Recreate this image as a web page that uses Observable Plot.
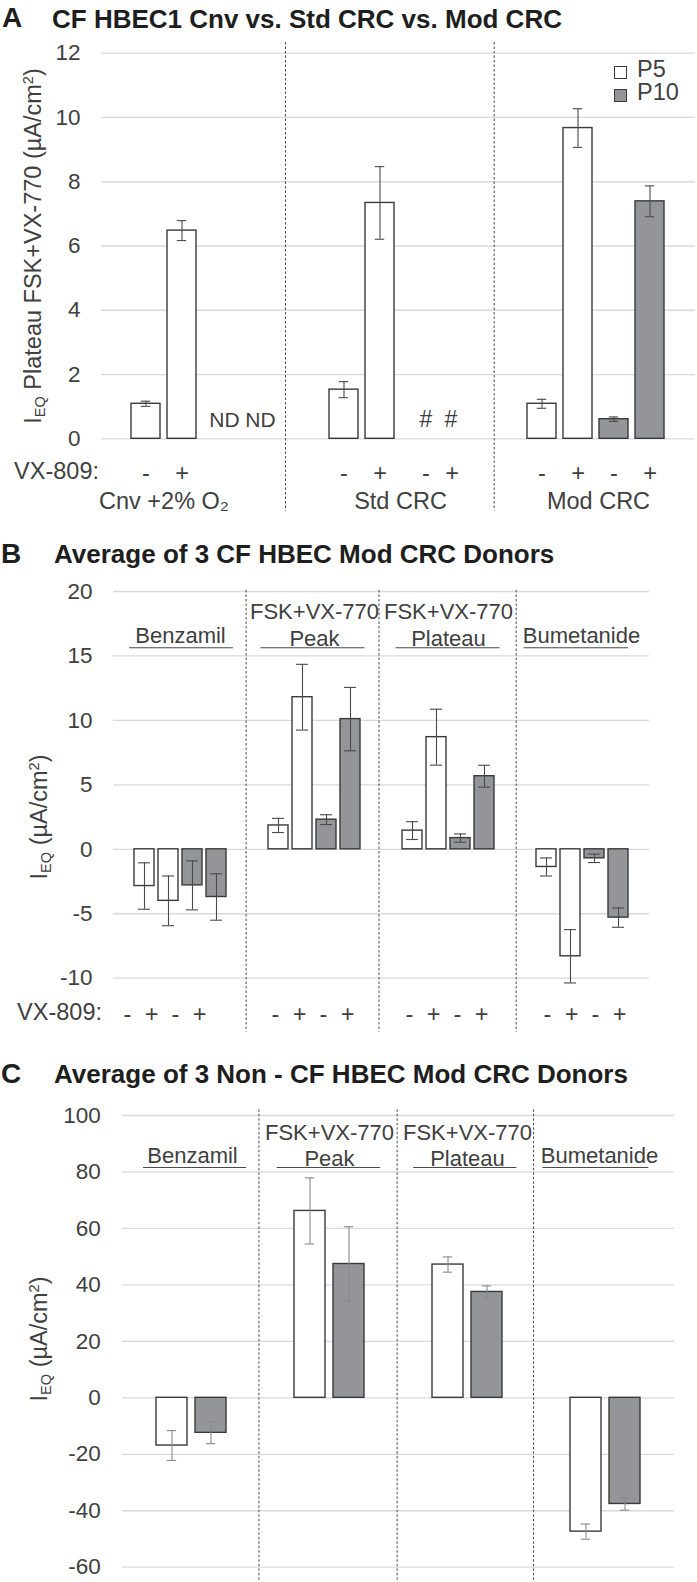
<!DOCTYPE html>
<html><head><meta charset="utf-8">
<script src="https://cdn.jsdelivr.net/npm/d3@7"></script>
<script src="https://cdn.jsdelivr.net/npm/@observablehq/plot@0.6"></script>
<style>
html,body{margin:0;padding:0;background:#fff;}
body{width:697px;height:1582px;overflow:hidden;position:relative;font-family:"Liberation Sans",Arial,Helvetica,sans-serif;color:#404040;}
.abs{position:absolute;white-space:nowrap;line-height:1;z-index:2;}
.letter{font-weight:bold;font-size:28px;color:#1e1e1e;}
.title{font-weight:bold;font-size:26px;color:#1e1e1e;}
.ylab{font-size:23.5px;transform:translate(-50%,-50%) rotate(-90deg);}
.vx{font-size:23.5px;text-align:right;}
.leg{font-size:23.5px;line-height:23.7px;}
.box{position:absolute;width:11px;height:11px;border:1.3px solid #3a3a3a;z-index:2;}
sub{font-size:0.62em;vertical-align:-0.28em;line-height:0;}
sup{font-size:0.62em;vertical-align:0.55em;line-height:0;}
</style></head>
<body>
<div class="abs letter" style="left:2px;top:4.3px">A</div>
<div class="abs title" style="left:52px;top:6px">CF HBEC1 Cnv vs. Std CRC vs. Mod CRC</div>
<div class="abs letter" style="left:1px;top:539.6px">B</div>
<div class="abs title" style="left:54px;top:541.3px">Average of 3 CF HBEC Mod CRC Donors</div>
<div class="abs letter" style="left:1px;top:1059.6px">C</div>
<div class="abs title" style="left:54px;top:1061.3px">Average of 3 Non - CF HBEC Mod CRC Donors</div>

<div class="abs ylab" style="left:33.9px;top:246px">I<sub>EQ</sub> Plateau FSK+VX-770 (µA/cm<sup>2</sup>)</div>
<div class="abs ylab" style="left:39.9px;top:816.6px">I<sub>EQ</sub> (µA/cm<sup>2</sup>)</div>
<div class="abs ylab" style="left:39.9px;top:1339px">I<sub>EQ</sub> (µA/cm<sup>2</sup>)</div>

<div class="abs vx" style="left:0;width:99px;top:460.1px">VX-809:</div>
<div class="abs vx" style="left:0;width:102px;top:1001.1px">VX-809:</div>

<div class="box" style="left:613.7px;top:65.7px;background:#fff"></div>
<div class="box" style="left:613.7px;top:89.3px;background:#949599"></div>
<div class="abs leg" style="left:637px;top:57.5px">P5<br>P10</div>

<script>
const FONT = '"Liberation Sans", Arial, Helvetica, sans-serif';
const INK = "#404040";
const GREY = "#949599";

// ---------- shared categories ----------
const slotKeys = ["P5-", "P5+", "P10-", "P10+"];
const vxSigns = ["-", "+", "-", "+"];
const passages = ["P5", "P10"];

// ---------- Panel A ----------
const aGroups = ["Cnv +2% O₂", "Std CRC", "Mod CRC"];
const aBarGroup = ["Cnv +2% O₂", "Cnv +2% O₂", "Std CRC", "Std CRC", "Mod CRC", "Mod CRC", "Mod CRC", "Mod CRC"];
const aBarSlot = ["P5-", "P5+", "P5-", "P5+", "P5-", "P5+", "P10-", "P10+"];
const aMean = [1.09, 6.48, 1.53, 7.34, 1.09, 9.67, 0.61, 7.39];
const aErr = [0.08, 0.31, 0.25, 1.13, 0.14, 0.60, 0.07, 0.48];
const aMissingGroup = ["Cnv +2% O₂", "Cnv +2% O₂", "Std CRC", "Std CRC"];
const aMissingSlot = ["P10-", "P10+", "P10-", "P10+"];
const aMissingText = ["ND", "ND", "#", "#"];
const aTicks = [0, 2, 4, 6, 8, 10, 12];

// ---------- Panel B ----------
const bGroups = ["Benzamil", "Peak", "Plateau", "Bumetanide"];
const bLabels = ["Benzamil", "FSK+VX-770\nPeak", "FSK+VX-770\nPlateau", "Bumetanide"];
const bMeanP5Minus = [-2.85, 1.85, 1.45, -1.37];
const bMeanP5Plus = [-4.0, 11.8, 8.7, -8.3];
const bMeanP10Minus = [-2.8, 2.3, 0.87, -0.7];
const bMeanP10Plus = [-3.7, 10.1, 5.67, -5.3];
const bErrP5Minus = [1.8, 0.55, 0.69, 0.7];
const bErrP5Plus = [1.93, 2.55, 2.17, 2.07];
const bErrP10Minus = [1.9, 0.38, 0.32, 0.33];
const bErrP10Plus = [1.8, 2.46, 0.85, 0.75];
const bTicks = [-10, -5, 0, 5, 10, 15, 20];

// ---------- Panel C ----------
const cGroups = ["Benzamil", "Peak", "Plateau", "Bumetanide"];
const cLabels = ["Benzamil", "FSK+VX-770\nPeak", "FSK+VX-770\nPlateau", "Bumetanide"];
const cMeanP5 = [-16.9, 66.2, 47.2, -47.4];
const cMeanP10 = [-12.4, 47.4, 37.5, -37.6];
const cErrP5 = [5.3, 11.7, 2.7, 2.7];
const cErrP10 = [3.85, 13.2, 2.15, 2.2];
const cTicks = [-60, -40, -20, 0, 20, 40, 60, 80, 100];

// ---------- build rows ----------
const passageOf = s => s.startsWith("P10") ? "P10" : "P5";
const aRows = aMean.map((m, i) => ({group: aBarGroup[i], slot: aBarSlot[i], passage: passageOf(aBarSlot[i]), mean: m, err: aErr[i]}));
const aMissing = aMissingText.map((t, i) => ({group: aMissingGroup[i], slot: aMissingSlot[i], text: t}));
const aVx = aRows.map(d => ({group: d.group, slot: d.slot}))
  .concat(aMissing.filter(d => d.text !== "ND").map(d => ({group: d.group, slot: d.slot})))
  .map(d => ({...d, sign: vxSigns[slotKeys.indexOf(d.slot)]}));

const bMeans = [bMeanP5Minus, bMeanP5Plus, bMeanP10Minus, bMeanP10Plus];
const bErrs = [bErrP5Minus, bErrP5Plus, bErrP10Minus, bErrP10Plus];
const bRows = [];
bGroups.forEach((g, i) => slotKeys.forEach((s, j) => bRows.push({group: g, slot: s, passage: passageOf(s), mean: bMeans[j][i], err: bErrs[j][i], sign: vxSigns[j]})));

const cMeans = [cMeanP5, cMeanP10];
const cErrs = [cErrP5, cErrP10];
const cRows = [];
cGroups.forEach((g, i) => passages.forEach((p, j) => cRows.push({group: g, slot: p, passage: p, mean: cMeans[j][i], err: cErrs[j][i]})));

// ---------- helpers ----------
const fmt = d => String(d);
function errMarks(rows, capInset, color) {
  const o = {fx: "group", x: "slot", stroke: color, strokeWidth: 1.1};
  return [
    Plot.ruleX(rows, {...o, y1: d => d.mean - d.err, y2: d => d.mean + d.err}),
    Plot.tickY(rows, {...o, y: d => d.mean - d.err, insetLeft: capInset, insetRight: capInset}),
    Plot.tickY(rows, {...o, y: d => d.mean + d.err, insetLeft: capInset, insetRight: capInset})
  ];
}
function separators(groups, offsets) {
  return groups.map((g, i) => Plot.ruleX([g], {fx: d => d, x: null, dx: offsets[i], stroke: "#4a4a4a", strokeWidth: 1, strokeDasharray: "2.5,2"}));
}
function headerMarks(groups, labels, opts) {
  const marks = [];
  groups.forEach((g, i) => {
    const two = labels[i].includes("\n");
    marks.push(Plot.text([g], {fx: d => d, text: () => labels[i], frameAnchor: "top", lineAnchor: "bottom",
      dy: two ? opts.dyTwo : opts.dyOne, dx: opts.labelDx[i], lineHeight: opts.lineHeight, fontSize: 22, fill: INK}));
    marks.push(Plot.ruleY([g], {fx: d => d, y: null, dy: opts.underlineDy, insetLeft: opts.insets[i][0], insetRight: opts.insets[i][1], stroke: "#4a4a4a", strokeWidth: 1.1}));
  });
  return marks;
}
function place(svg, top) {
  svg.style.position = "absolute";
  svg.style.left = "0px";
  svg.style.top = top + "px";
  svg.style.background = "transparent";
  svg.style.maxWidth = "none";
  document.body.appendChild(svg);
}
const baseStyle = {fontFamily: FONT, fontSize: "22.5px", color: INK, background: "transparent"};
const colorScale = {domain: passages, range: ["#ffffff", GREY]};

// ---------- Plot A ----------
const plotA = Plot.plot({
  width: 697, height: 530,
  marginLeft: 101, marginRight: 2, marginTop: 42, marginBottom: 19.3,
  style: baseStyle,
  fx: {domain: aGroups, padding: 0, axis: null, label: null},
  x: {domain: slotKeys, paddingInner: 0.194, paddingOuter: 0.847, axis: null},
  y: {domain: [0, 12], ticks: aTicks, tickFormat: fmt, tickSize: 0, tickPadding: 21, label: null, insetTop: 10.7, insetBottom: 72.4},
  color: colorScale,
  marks: [
    Plot.ruleY(aTicks, {stroke: "#d9d9d9", strokeWidth: 1.3}),
    ...separators(["Std CRC", "Mod CRC"], [-113, -102.3]),
    Plot.barY(aRows, {fx: "group", x: "slot", y: "mean", fill: "passage", stroke: "#3a3a3a", strokeWidth: 1.4}),
    ...errMarks(aRows, 9.8, "#4a4a4a"),
    Plot.text(aMissing.filter(d => d.text === "ND"), {fx: "group", x: "slot", text: "text", frameAnchor: "bottom", lineAnchor: "bottom", dy: -84, dx: 6.5, fontSize: 21, fill: INK}),
    Plot.text(aMissing.filter(d => d.text === "#" && d.slot === "P10-"), {fx: "group", x: "slot", text: "text", frameAnchor: "bottom", lineAnchor: "bottom", dy: -84, dx: 10, fontSize: 23, fill: INK}),
    Plot.text(aMissing.filter(d => d.text === "#" && d.slot === "P10+"), {fx: "group", x: "slot", text: "text", frameAnchor: "bottom", lineAnchor: "bottom", dy: -84, dx: -1, fontSize: 23, fill: INK}),
    Plot.text(aVx.filter(d => !(d.group === "Std CRC" && d.slot === "P10-")), {fx: "group", x: "slot", text: "sign", frameAnchor: "bottom", lineAnchor: "bottom", dy: -30.7, fontSize: 23.5, fill: INK}),
    Plot.text(aVx.filter(d => d.group === "Std CRC" && d.slot === "P10-"), {fx: "group", x: "slot", text: "sign", frameAnchor: "bottom", lineAnchor: "bottom", dy: -30.7, dx: 10, fontSize: 23.5, fill: INK}),
    Plot.text([aGroups[0]], {fx: d => d, x: () => "P5-", text: d => d, frameAnchor: "bottom", lineAnchor: "bottom", dy: -2.7, dx: 18, fontSize: 23.5, fill: INK}),
    Plot.text(aGroups.slice(1), {fx: d => d, text: d => d, frameAnchor: "bottom", lineAnchor: "bottom", dy: -2.7, dx: 2, fontSize: 23.5, fill: INK})
  ]
});
place(plotA, 0);

// ---------- Plot B ----------
const plotB = Plot.plot({
  width: 697, height: 505,
  marginLeft: 112, marginRight: 47, marginTop: 60, marginBottom: 3.3,
  style: baseStyle,
  fx: {domain: bGroups, padding: 0, axis: null, label: null},
  x: {domain: slotKeys, paddingInner: 0.187, paddingOuter: 0.827, axis: null},
  y: {domain: [-10, 20], ticks: bTicks, tickFormat: fmt, tickSize: 0, tickPadding: 21, label: null, insetTop: 1, insetBottom: 54},
  color: colorScale,
  marks: [
    Plot.ruleY(bTicks, {stroke: "#d9d9d9", strokeWidth: 1.3}),
    ...separators(["Peak", "Plateau", "Bumetanide"], [-68.4, -69.5, -66.3]),
    ...headerMarks(bGroups, bLabels, {dyOne: 52, dyTwo: 55, lineHeight: 1.21, labelDx: [0, 0, 0, -1],
      underlineDy: -163.55, insets: [[16, 14.1], [13.5, 16.6], [14.6, 15.5], [8.5, 21]]}),
    Plot.barY(bRows, {fx: "group", x: "slot", y: "mean", fill: "passage", stroke: "#3a3a3a", strokeWidth: 1.4}),
    ...errMarks(bRows, 4, "#4a4a4a"),
    ...bGroups.map((g, i) => Plot.text(bRows.filter(d => d.group === g), {fx: "group", x: "slot", text: "sign", frameAnchor: "bottom", lineAnchor: "bottom", dy: -10.7, dx: [-17, -3, -3, 1][i], fontSize: 23.5, fill: INK}))
  ]
});
place(plotB, 530);

// ---------- Plot C ----------
const plotC = Plot.plot({
  width: 697, height: 547,
  marginLeft: 120, marginRight: 21.4, marginTop: 74.3, marginBottom: 2,
  style: baseStyle,
  fx: {domain: cGroups, padding: 0, axis: null, label: null},
  x: {domain: passages, paddingInner: 0.21, paddingOuter: 0.84, axis: null},
  y: {domain: [-60, 100], ticks: cTicks, tickFormat: fmt, tickSize: 0, tickPadding: 21.7, label: null, insetTop: 5.7, insetBottom: 13.3},
  color: colorScale,
  marks: [
    Plot.ruleY(cTicks, {stroke: "#d9d9d9", strokeWidth: 1.3}),
    ...separators(["Peak", "Plateau", "Bumetanide"], [-70.55, -70.35, -71.95]),
    ...headerMarks(cGroups, cLabels, {dyOne: 52.7, dyTwo: 55.7, lineHeight: 1.14, labelDx: [1, 0, 0, -6],
      underlineDy: -177.65, insets: [[21, 13.9], [16.7, 17.8], [15.2, 19.7], [6.3, 25.6]]}),
    Plot.barY(cRows, {fx: "group", x: "slot", y: "mean", fill: "passage", stroke: "#3a3a3a", strokeWidth: 1.4}),
    ...errMarks(cRows, 10.8, "#8a8a8a")
  ]
});
place(plotC, 1035);
</script>
</body></html>
